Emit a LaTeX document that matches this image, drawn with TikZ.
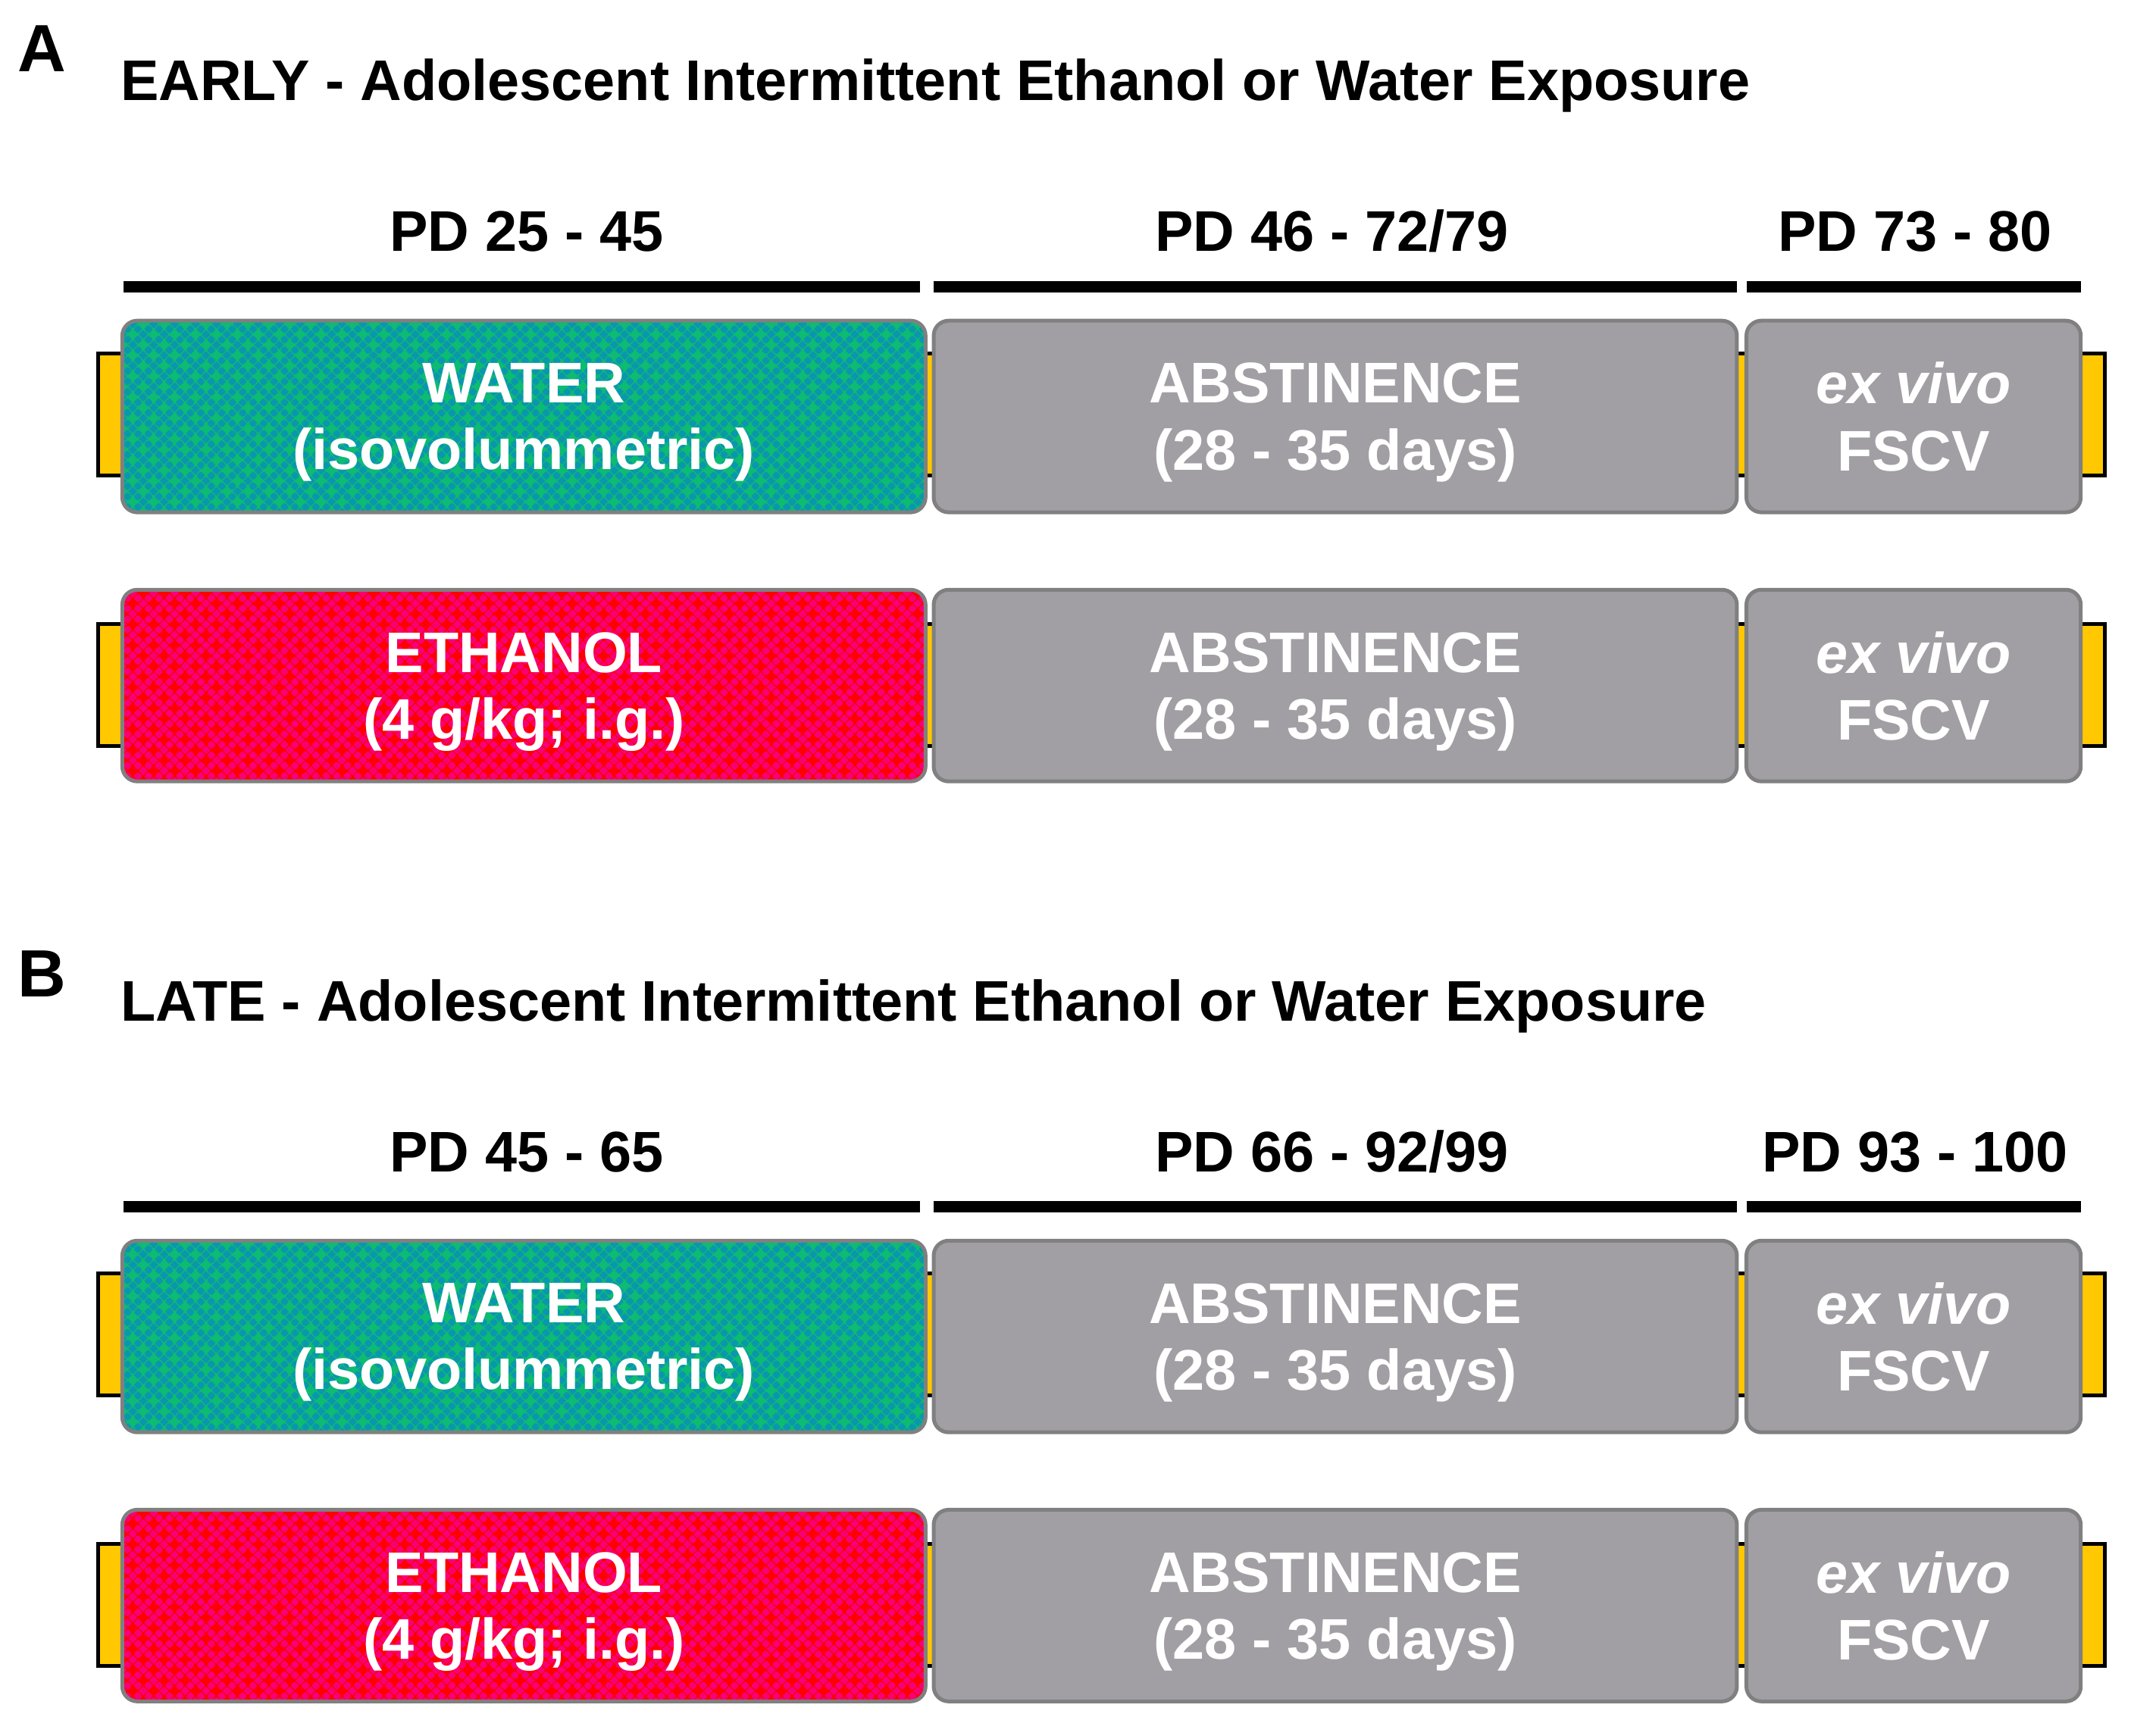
\documentclass[tikz,border=0pt]{standalone}
\usepackage{fontspec}
\setmainfont{Liberation Sans}

\definecolor{wtrbg}{HTML}{0A97AE}
\definecolor{wtrdot}{HTML}{0DBB72}
\definecolor{ethbg}{HTML}{F70077}
\definecolor{ethdot}{HTML}{FF0000}
\definecolor{absfill}{HTML}{A19FA4}
\definecolor{boxline}{HTML}{808080}
\definecolor{barfill}{HTML}{FFC800}

\tikzset{
  lett/.style={anchor=base west, inner sep=0, font=\bfseries\fontsize{14}{16}\selectfont},
  ttl/.style={anchor=base west, inner sep=0, font=\bfseries\fontsize{12}{14}\selectfont},
  hdr/.style={anchor=base, inner sep=0, font=\bfseries\fontsize{12}{14}\selectfont},
  hline/.style={line width=2.5pt},
  bar/.style={draw=black, fill=barfill, line width=0.8pt},
  diamonds/.style={path picture={
    \foreach \j in {0,...,19}{
      \pgfmathsetmacro\off{mod(\j,2)*0.077}
      \fill[#1] \foreach \i in {0,...,39}{(path picture bounding box.south west) ++({\i*0.154+\off},{\j*0.077}) ++(-0.042,0) -- ++(0.042,0.042) -- ++(0.042,-0.042) -- ++(-0.042,-0.042) -- cycle};
    }}},
  box/.style={draw=boxline, line width=0.8pt, rounded corners=0.11cm, inner sep=0,
    minimum height=1.41cm, align=center, text=white, text depth=0pt,
    font=\bfseries\fontsize{12}{14}\selectfont},
  wtrbox/.style={box, fill=wtrbg, diamonds=wtrdot, minimum width=5.91cm},
  ethbox/.style={box, fill=ethbg, diamonds=ethdot, minimum width=5.91cm},
  absbox/.style={box, fill=absfill, minimum width=5.91cm},
  fscvbox/.style={box, fill=absfill, minimum width=2.46cm}
}

\begin{document}
\begin{tikzpicture}
\useasboundingbox (0,0) rectangle (15.68,-12.77);
% A
\node[lett] (la) at (0.125,-0.526) {A};
\node[ttl] (ta) at (0.88,-0.738) {EARLY - Adolescent Intermittent Ethanol or Water Exposure};
\node[hdr] (ha1) at (3.875,-1.846) {PD 25 - 45};
\node[hdr] (ha2) at (9.80,-1.846) {PD 46 - 72/79};
\node[hdr] (ha3) at (14.09,-1.846) {PD 73 - 80};
\draw[hline] (0.91,-2.11) -- (6.77,-2.11);
\draw[hline] (6.87,-2.11) -- (12.78,-2.11);
\draw[hline] (12.85,-2.11) -- (15.31,-2.11);
\draw[bar] (0.72,-2.60) rectangle (15.49,-3.50);
\draw[bar] (0.72,-4.59) rectangle (15.49,-5.49);
\node[wtrbox] (wa) at (3.855,-3.065) {WATER\\(isovolummetric)};
\node[absbox] (aba1) at (9.825,-3.065) {ABSTINENCE\\(28 - 35 days)};
\node[fscvbox] (fsa1) at (14.08,-3.065) {\textit{ex vivo}\\FSCV};
\node[ethbox] (ea) at (3.855,-5.045) {ETHANOL\\(4 g/kg; i.g.)};
\node[absbox] (aba2) at (9.825,-5.045) {ABSTINENCE\\(28 - 35 days)};
\node[fscvbox] (fsa2) at (14.08,-5.045) {\textit{ex vivo}\\FSCV};
% B
\node[lett] (lb) at (0.125,-7.334) {B};
\node[ttl] (tb) at (0.88,-7.513) {LATE - Adolescent Intermittent Ethanol or Water Exposure};
\node[hdr] (hb1) at (3.875,-8.621) {PD 45 - 65};
\node[hdr] (hb2) at (9.80,-8.621) {PD 66 - 92/99};
\node[hdr] (hb3) at (14.09,-8.621) {PD 93 - 100};
\draw[hline] (0.91,-8.88) -- (6.77,-8.88);
\draw[hline] (6.87,-8.88) -- (12.78,-8.88);
\draw[hline] (12.85,-8.88) -- (15.31,-8.88);
\draw[bar] (0.72,-9.37) rectangle (15.49,-10.27);
\draw[bar] (0.72,-11.36) rectangle (15.49,-12.26);
\node[wtrbox] (wb) at (3.855,-9.835) {WATER\\(isovolummetric)};
\node[absbox] (abb1) at (9.825,-9.835) {ABSTINENCE\\(28 - 35 days)};
\node[fscvbox] (fsb1) at (14.08,-9.835) {\textit{ex vivo}\\FSCV};
\node[ethbox] (eb) at (3.855,-11.815) {ETHANOL\\(4 g/kg; i.g.)};
\node[absbox] (abb2) at (9.825,-11.815) {ABSTINENCE\\(28 - 35 days)};
\node[fscvbox] (fsb2) at (14.08,-11.815) {\textit{ex vivo}\\FSCV};
\end{tikzpicture}
\end{document}
